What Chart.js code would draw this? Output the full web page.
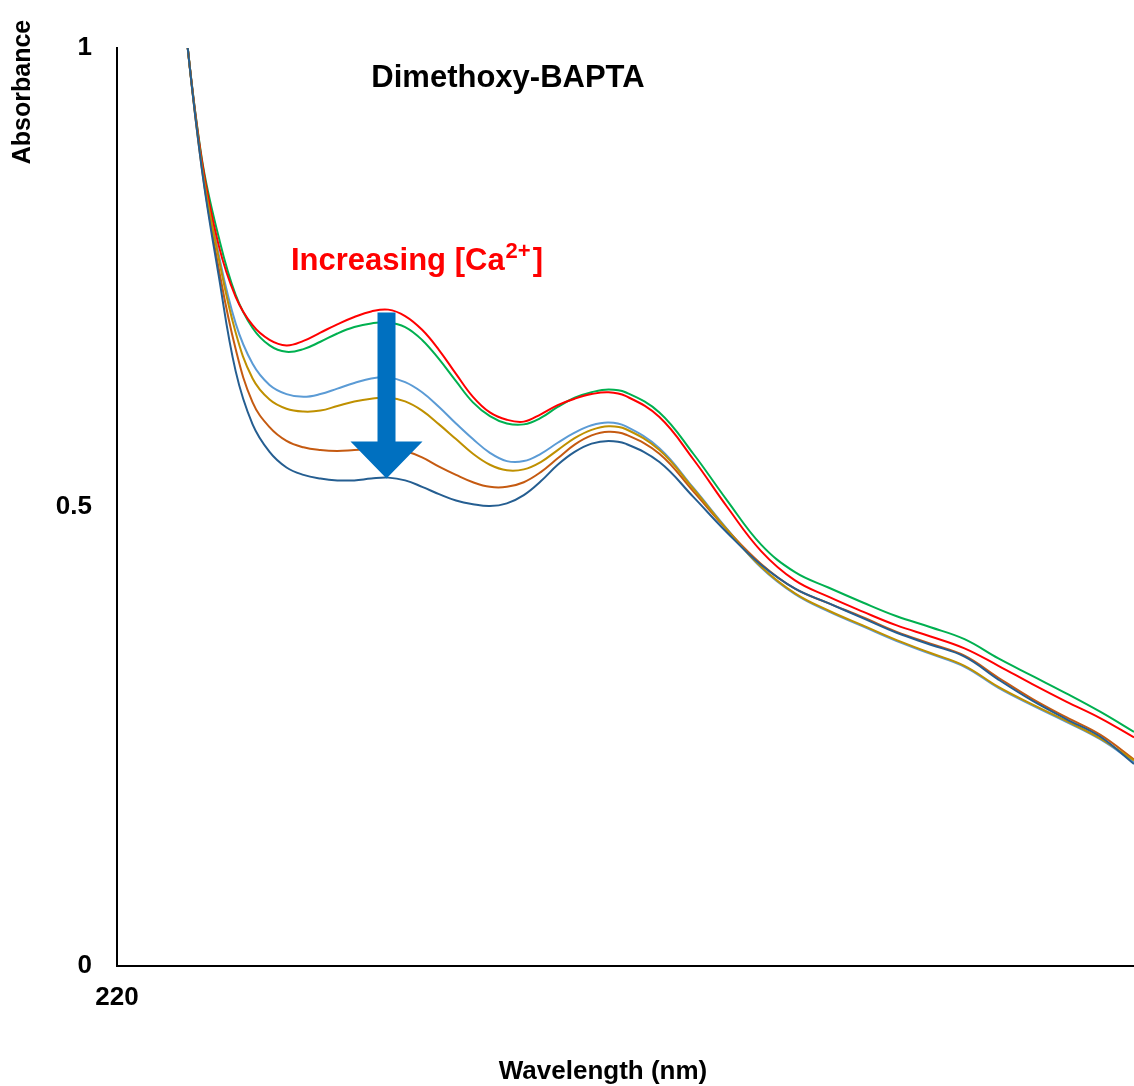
<!DOCTYPE html>
<html>
<head>
<meta charset="utf-8">
<script src="https://cdn.jsdelivr.net/npm/chart.js@4.4.1/dist/chart.umd.min.js"></script>
<style>
  html, body { margin: 0; padding: 0; background: #fff; }
  #wrap { width: 1134px; height: 1086px; position: relative; }
</style>
</head>
<body>
<div id="wrap"><canvas id="spectrumChart"></canvas></div>
<script>
let wavelengths = [226, 228, 230, 232, 234, 236, 238, 240, 242, 244, 246, 248, 250, 252, 254, 256, 258, 260, 262, 264, 266, 268, 270, 272, 274, 276, 278, 280, 284, 288, 292, 296, 300, 304, 308, 312, 316, 320, 324, 328, 332, 336, 340];

let redSeries = [1.216, 1.03, 0.878, 0.785, 0.729, 0.698, 0.682, 0.676, 0.681, 0.690, 0.699, 0.707, 0.713, 0.715, 0.708, 0.693, 0.671, 0.645, 0.620, 0.603, 0.595, 0.593, 0.601, 0.611, 0.618, 0.623, 0.625, 0.621, 0.598, 0.552, 0.500, 0.452, 0.420, 0.402, 0.386, 0.371, 0.359, 0.346, 0.327, 0.307, 0.288, 0.270, 0.249];
let greenSeries = [1.216, 1.03, 0.880, 0.794, 0.731, 0.695, 0.676, 0.669, 0.672, 0.680, 0.689, 0.696, 0.700, 0.701, 0.696, 0.682, 0.661, 0.637, 0.614, 0.599, 0.591, 0.590, 0.597, 0.609, 0.619, 0.625, 0.628, 0.625, 0.603, 0.558, 0.507, 0.459, 0.429, 0.412, 0.396, 0.381, 0.369, 0.356, 0.335, 0.316, 0.297, 0.277, 0.255];
let lightBlueSeries = [1.216, 1.03, 0.875, 0.775, 0.700, 0.656, 0.633, 0.623, 0.620, 0.623, 0.629, 0.635, 0.640, 0.641, 0.636, 0.625, 0.609, 0.591, 0.574, 0.559, 0.550, 0.550, 0.558, 0.570, 0.581, 0.589, 0.592, 0.588, 0.564, 0.521, 0.476, 0.434, 0.405, 0.386, 0.370, 0.354, 0.340, 0.326, 0.303, 0.284, 0.266, 0.247, 0.222];
let goldSeries = [1.216, 1.03, 0.873, 0.771, 0.690, 0.640, 0.617, 0.607, 0.604, 0.605, 0.610, 0.615, 0.618, 0.619, 0.615, 0.605, 0.590, 0.574, 0.558, 0.546, 0.540, 0.541, 0.549, 0.562, 0.575, 0.584, 0.588, 0.585, 0.562, 0.520, 0.475, 0.435, 0.406, 0.387, 0.371, 0.355, 0.341, 0.327, 0.304, 0.285, 0.267, 0.248, 0.224];
let orangeSeries = [1.216, 1.03, 0.870, 0.760, 0.672, 0.614, 0.587, 0.572, 0.565, 0.562, 0.561, 0.562, 0.563, 0.564, 0.561, 0.554, 0.544, 0.535, 0.527, 0.522, 0.522, 0.527, 0.538, 0.553, 0.568, 0.578, 0.582, 0.579, 0.558, 0.517, 0.475, 0.438, 0.411, 0.395, 0.380, 0.364, 0.351, 0.338, 0.314, 0.291, 0.271, 0.252, 0.225];
let darkBlueSeries = [1.216, 1.03, 0.869, 0.752, 0.648, 0.590, 0.560, 0.543, 0.535, 0.531, 0.529, 0.529, 0.531, 0.532, 0.529, 0.522, 0.514, 0.507, 0.503, 0.501, 0.504, 0.513, 0.528, 0.546, 0.560, 0.569, 0.572, 0.569, 0.549, 0.511, 0.472, 0.437, 0.411, 0.395, 0.379, 0.363, 0.350, 0.337, 0.312, 0.289, 0.269, 0.250, 0.220];

let xTicks = [220];
let yTicks = [0, 0.5, 1];

// arrow: wavelength, start absorbance, tip absorbance
let arrowX = 251.8;
let arrowFrom = 0.712;
let arrowTo = 0.531;

let fontFamily = '"Liberation Sans", Arial, sans-serif';

function toPoints(values) {
    let pts = [];
    for (let i = 0; i < values.length; i++) {
        pts.push({ x: wavelengths[i], y: values[i] });
    }
    return pts;
}

function makeSet(values, color) {
    return {
        data: toPoints(values),
        borderColor: color,
        backgroundColor: color,
        borderWidth: 2,
        pointRadius: 0,
        fill: false,
        tension: 0.4
    };
}

// texts and the blue arrow
let overlayPlugin = {
    id: 'overlay',
    afterDatasetsDraw(chart) {
        let ctx = chart.ctx;
        let xs = chart.scales.x;
        let ys = chart.scales.y;

        // arrow
        let ax = xs.getPixelForValue(arrowX);
        let top = ys.getPixelForValue(arrowFrom);
        let tip = ys.getPixelForValue(arrowTo);
        let headLen = 37, headHalf = 36, shaftHalf = 9;
        ctx.save();
        ctx.fillStyle = '#0070C0';
        ctx.beginPath();
        ctx.moveTo(ax - shaftHalf, top);
        ctx.lineTo(ax + shaftHalf, top);
        ctx.lineTo(ax + shaftHalf, tip - headLen);
        ctx.lineTo(ax + headHalf, tip - headLen);
        ctx.lineTo(ax, tip);
        ctx.lineTo(ax - headHalf, tip - headLen);
        ctx.lineTo(ax - shaftHalf, tip - headLen);
        ctx.closePath();
        ctx.fill();
        ctx.restore();

        ctx.save();
        ctx.fillStyle = '#000';
        ctx.font = 'bold 31px ' + fontFamily;
        ctx.textAlign = 'center';
        ctx.textBaseline = 'alphabetic';
        ctx.fillText('Dimethoxy-BAPTA', 508, 87);

        // Increasing [Ca2+]
        ctx.fillStyle = '#FF0000';
        ctx.textAlign = 'left';
        let x0 = 291, base = 270;
        ctx.font = 'bold 31px ' + fontFamily;
        let part1 = 'Increasing [Ca';
        ctx.fillText(part1, x0, base);
        x0 += ctx.measureText(part1).width;
        ctx.font = 'bold 22px ' + fontFamily;
        ctx.fillText('2+', x0 + 1, base - 12);
        x0 += ctx.measureText('2+').width + 3;
        ctx.font = 'bold 31px ' + fontFamily;
        ctx.fillText(']', x0, base);

        // axis titles
        ctx.fillStyle = '#000';
        ctx.font = 'bold 26px ' + fontFamily;
        ctx.textAlign = 'center';
        ctx.textBaseline = 'middle';
        ctx.fillText('Wavelength (nm)', 603, 1072);
        ctx.font = 'bold 25px ' + fontFamily;
        ctx.translate(23, 92);
        ctx.rotate(-Math.PI / 2);
        ctx.fillText('Absorbance', 0, 0);
        ctx.restore();
    }
};

function renderChart() {
    let ctx = document.getElementById('spectrumChart').getContext('2d');
    new Chart(ctx, {
        type: 'line',
        data: {
            datasets: [
                makeSet(darkBlueSeries, '#255E91'),
                makeSet(goldSeries, '#BF9000'),
                makeSet(redSeries, '#FF0000'),
                makeSet(greenSeries, '#00B050'),
                makeSet(orangeSeries, '#C55A11'),
                makeSet(lightBlueSeries, '#5B9BD5')
            ]
        },
        options: {
            responsive: true,
            maintainAspectRatio: false,
            animation: false,
            layout: { padding: { left: 0, right: 0, top: 48, bottom: 0 } },
            plugins: {
                legend: { display: false },
                tooltip: { enabled: false },
                title: { display: false }
            },
            scales: {
                x: {
                    type: 'linear',
                    min: 220,
                    max: 340,
                    afterBuildTicks: function(scale) {
                        scale.ticks = xTicks.map(v => ({ value: v }));
                    },
                    afterFit: function(scale) { scale.height = 120; },
                    ticks: {
                        color: '#000',
                        padding: 16,
                        maxRotation: 0,
                        font: { family: fontFamily, size: 26, weight: 'bold' }
                    },
                    grid: { display: false, drawTicks: false },
                    border: { display: true, color: '#000', width: 2 }
                },
                y: {
                    min: 0,
                    max: 1,
                    afterBuildTicks: function(scale) {
                        scale.ticks = yTicks.map(v => ({ value: v }));
                    },
                    afterFit: function(scale) { scale.width = 117; },
                    ticks: {
                        color: '#000',
                        padding: 25,
                        font: { family: fontFamily, size: 26, weight: 'bold' },
                        callback: function(v) { return String(v); }
                    },
                    grid: { display: false, drawTicks: false },
                    border: { display: true, color: '#000', width: 2 }
                }
            }
        },
        plugins: [overlayPlugin]
    });
}

renderChart();
</script>
</body>
</html>
